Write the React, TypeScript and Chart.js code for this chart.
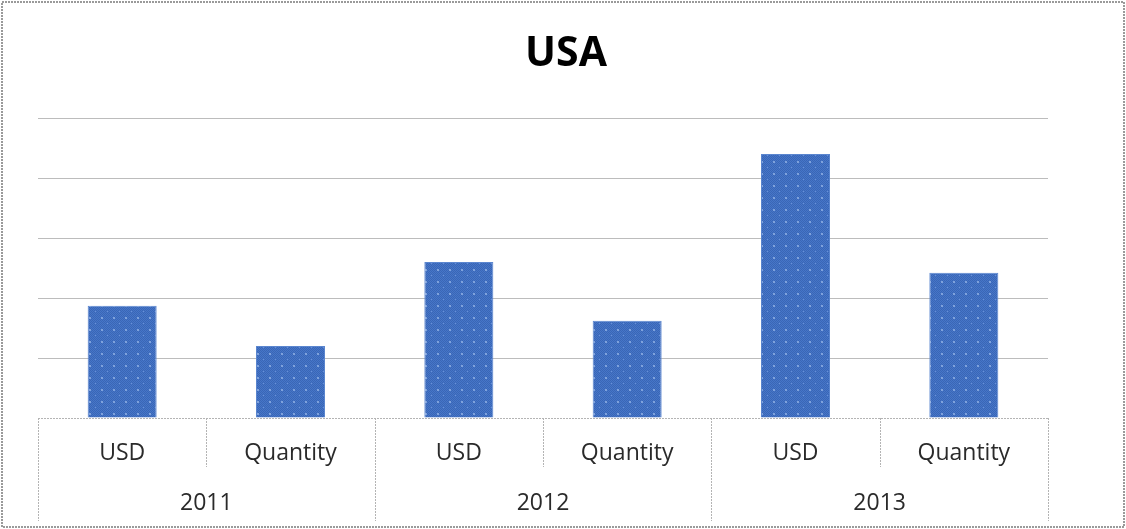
import React, { useEffect, useRef } from "react";
import { Chart, registerables } from "chart.js";

Chart.register(...registerables);

const titleText = "USA";
const years = ["2011", "2012", "2013"];
const measures = ["USD", "Quantity"];
const categories = years.flatMap((y) => measures.map((m) => `${y} ${m}`));
const values = [1.87, 1.2, 2.6, 1.62, 4.4, 2.42];
const yTicks = [0, 1, 2, 3, 4, 5];

function makePattern(): CanvasPattern | string {
  const c = document.createElement("canvas");
  c.width = 12;
  c.height = 12;
  const g = c.getContext("2d");
  if (!g) return "#4472c4";
  g.fillStyle = "#4676c8";
  g.fillRect(0, 0, 12, 12);
  for (let y = 0; y < 12; y++) {
    for (let x = 0; x < 12; x++) {
      if ((x + y) % 2 === 0) {
        g.fillStyle = "#3a66b6";
        g.fillRect(x, y, 1, 1);
      }
    }
  }
  g.fillStyle = "#7fa2dc";
  g.fillRect(5, 5, 2, 2);
  g.fillStyle = "#6a8fd4";
  g.fillRect(11, 11, 1, 1);
  return g.createPattern(c, "repeat") || "#4472c4";
}

const tablePlugin = {
  id: "tablePlugin",
  afterDraw(chart: any) {
    const ctx = chart.ctx as CanvasRenderingContext2D;
    const xs = chart.scales.x;
    const area = chart.chartArea;
    const top = area.bottom;
    const midY = top + 49;
    const bottom = top + 103;
    const n = categories.length;
    const step = (xs.getPixelForValue(n - 1) - xs.getPixelForValue(0)) / (n - 1);
    ctx.save();
    ctx.strokeStyle = "#b4b4b4";
    ctx.lineWidth = 1;
    ctx.setLineDash([2, 1]);
    ctx.beginPath();
    ctx.moveTo(area.left, Math.round(top) + 0.5);
    ctx.lineTo(area.right, Math.round(top) + 0.5);
    ctx.stroke();
    for (let i = 0; i <= n; i++) {
      const x = Math.round(xs.getPixelForValue(i) - step / 2) + 0.5;
      const full = i % measures.length === 0;
      ctx.beginPath();
      ctx.moveTo(x, top);
      ctx.lineTo(x, full ? bottom : midY);
      ctx.stroke();
    }
    ctx.setLineDash([]);
    ctx.fillStyle = "#2a2a2a";
    ctx.textAlign = "center";
    ctx.textBaseline = "middle";
    ctx.font = "23px 'Open Sans'";
    categories.forEach((_, i) => {
      ctx.fillText(measures[i % measures.length], xs.getPixelForValue(i), top + 35);
    });
    years.forEach((y, g) => {
      const a = xs.getPixelForValue(g * measures.length);
      const b = xs.getPixelForValue(g * measures.length + measures.length - 1);
      ctx.fillText(y, (a + b) / 2, top + 85);
    });
    // title centred on the whole canvas
    ctx.fillStyle = "#000";
    ctx.font = "bold 41px 'Open Sans'";
    ctx.fillText(titleText, chart.width / 2 + 3, 54);
    // outer border
    ctx.strokeStyle = "#9a9a9a";
    ctx.lineWidth = 2;
    ctx.setLineDash([2, 1]);
    ctx.strokeRect(2, 2, chart.width - 4, chart.height - 4);
    ctx.restore();
  },
};

export default function App() {
  const ref = useRef<HTMLCanvasElement | null>(null);
  useEffect(() => {
    if (!ref.current) return;
    const chart = new Chart(ref.current, {
      type: "bar",
      data: {
        labels: categories,
        datasets: [
          {
            data: values,
            backgroundColor: makePattern() as any,
            borderColor: "#5b86cf",
            borderWidth: 1,
            barPercentage: 0.41,
            categoryPercentage: 1,
          },
        ],
      },
      options: {
        animation: false,
        responsive: false,
        maintainAspectRatio: false,
        layout: { padding: { left: 38, right: 78, top: 118, bottom: 111 } },
        plugins: {
          legend: { display: false },
          tooltip: { enabled: false },
          title: { display: false },
        },
        scales: {
          x: { display: false },
          y: {
            display: true,
            min: 0,
            max: yTicks[yTicks.length - 1],
            afterFit: (s: any) => {
              s.width = 0;
            },
            afterBuildTicks: (s: any) => {
              s.ticks = yTicks.map((v) => ({ value: v }));
            },
            ticks: { display: false },
            border: { display: false },
            grid: {
              drawTicks: false,
              color: (c: any) => (c.tick && c.tick.value === 0 ? "rgba(0,0,0,0)" : "#bcbcbc"),
              lineWidth: 1,
            },
          },
        },
      },
      plugins: [tablePlugin],
    });
    return () => chart.destroy();
  }, []);
  return (
    <div style={{ position: "fixed", left: 0, top: 0, width: 1126, height: 529, background: "#fff" }}>
      <canvas ref={ref} width={1126} height={529} style={{ width: 1126, height: 529 }} />
    </div>
  );
}
